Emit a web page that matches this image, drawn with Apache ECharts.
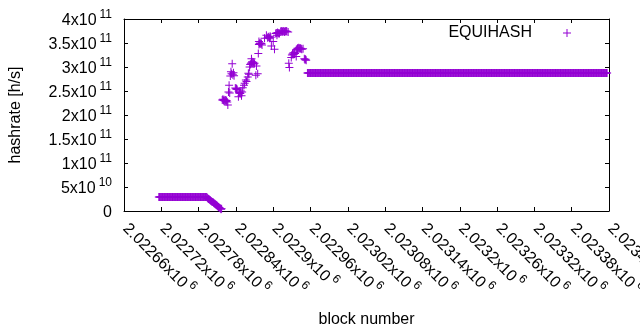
<!DOCTYPE html>
<html>
<head>
<meta charset="utf-8">
<script src="https://cdn.jsdelivr.net/npm/echarts@6/dist/echarts.min.js"></script>
<style>
    html, body { margin: 0; padding: 0; background: #fff; }
    #chart { width: 640px; height: 330px; }
</style>
</head>
<body>
<div id="chart"></div>
<script>
    // x range and ticks (block numbers)
    const xMin = 2022660;
    const xMax = 2023440;
    const xStep = 60;
    // y range and ticks (h/s)
    const yMin = 0;
    const yMax = 4e11;
    const yStep = 5e10;

    const seriesName = 'EQUIHASH';

    // constant stretches: [first block, last block, hashrate], one point per block
    const lowRun = [2022716, 2022793, 2.9e10];
    const highRun = [2022955, 2023437, 2.875e11];

    // decline after the low stretch, one value per block
    const rampStart = 2022794;
    const rampValues = [2.75e10, 2.6e10, 2.5e10, 2.45e10, 2.3e10, 2.2e10, 2.1e10, 2.0e10,
        1.9e10, 1.85e10, 1.7e10, 1.6e10, 1.5e10, 1.4e10, 1.3e10, 1.2e10, 1.1e10,
        0.95e10, 0.85e10, 0.75e10, 0.6e10, 0.5e10, 0.35e10, 0.45e10];

    // the scattered part: [block, hashrate]
    const scatterPoints = [
        [2022818, 2.31e11], [2022819, 2.33e11], [2022820, 2.30e11], [2022821, 2.32e11],
        [2022822, 2.29e11], [2022823, 2.31e11], [2022824, 2.28e11], [2022825, 2.30e11],
        [2022826, 2.27e11], [2022827, 2.21e11], [2022828, 2.48e11], [2022829, 2.62e11],
        [2022830, 2.46e11], [2022831, 2.81e11], [2022832, 2.90e11], [2022833, 2.86e11],
        [2022834, 3.07e11], [2022835, 2.84e11], [2022836, 2.88e11], [2022837, 2.82e11],
        [2022839, 2.56e11], [2022840, 2.54e11], [2022841, 2.55e11], [2022842, 2.53e11],
        [2022844, 2.38e11], [2022845, 2.46e11], [2022846, 2.47e11], [2022847, 2.45e11],
        [2022848, 2.50e11], [2022849, 2.40e11], [2022850, 2.48e11], [2022851, 2.57e11],
        [2022853, 2.62e11], [2022854, 2.66e11], [2022856, 2.73e11], [2022857, 2.70e11],
        [2022859, 2.79e11], [2022860, 2.87e11], [2022861, 2.85e11], [2022862, 3.00e11],
        [2022863, 3.05e11], [2022864, 3.07e11], [2022865, 3.09e11], [2022866, 3.11e11],
        [2022867, 3.08e11], [2022868, 3.10e11], [2022869, 3.06e11], [2022870, 3.08e11],
        [2022865, 3.17e11], [2022872, 2.83e11], [2022873, 3.02e11], [2022875, 2.86e11],
        [2022876, 3.28e11], [2022877, 3.47e11], [2022878, 3.49e11], [2022879, 3.50e11],
        [2022880, 3.48e11], [2022881, 3.49e11], [2022882, 3.46e11], [2022877, 3.53e11],
        [2022886, 3.60e11], [2022889, 3.66e11], [2022891, 3.61e11], [2022892, 3.63e11],
        [2022893, 3.62e11], [2022894, 3.60e11], [2022895, 3.64e11], [2022896, 3.62e11],
        [2022897, 3.44e11], [2022900, 3.53e11], [2022902, 3.37e11], [2022904, 3.70e11],
        [2022905, 3.71e11], [2022906, 3.66e11], [2022907, 3.72e11], [2022908, 3.70e11],
        [2022909, 3.71e11], [2022910, 3.70e11], [2022912, 3.74e11], [2022913, 3.75e11],
        [2022914, 3.73e11], [2022915, 3.74e11], [2022916, 3.75e11], [2022917, 3.74e11],
        [2022918, 3.73e11], [2022919, 3.75e11], [2022920, 3.74e11], [2022921, 3.75e11],
        [2022922, 3.74e11], [2022924, 3.73e11], [2022925, 3.08e11], [2022926, 2.99e11],
        [2022929, 3.20e11], [2022930, 3.25e11], [2022931, 3.27e11], [2022932, 3.29e11],
        [2022933, 3.26e11], [2022934, 3.30e11], [2022935, 3.28e11], [2022937, 3.22e11],
        [2022937, 3.36e11], [2022938, 3.37e11], [2022939, 3.39e11], [2022940, 3.38e11],
        [2022941, 3.40e11], [2022942, 3.39e11], [2022943, 3.38e11], [2022944, 3.39e11],
        [2022945, 3.38e11], [2022946, 3.37e11], [2022948, 3.38e11], [2022950, 3.17e11],
        [2022951, 3.15e11], [2022952, 3.16e11], [2022953, 3.14e11]
    ];

    function expandRun(run) {
        let out = [];
        for (let b = run[0]; b <= run[1]; b++) out.push([b, run[2]]);
        return out;
    }

    let points = expandRun(lowRun)
        .concat(rampValues.map((v, i) => [rampStart + i, v]))
        .concat(scatterPoints)
        .concat(expandRun(highRun));

    // "2.02266x10^6" style labels
    function sciLabel(v) {
        if (v === 0) return '{m|0}';
        let e = Math.floor(Math.log10(Math.abs(v)) + 1e-9);
        let m = parseFloat((v / Math.pow(10, e)).toPrecision(6));
        return '{m|' + m + 'x10}{s|' + e + '}';
    }

    const font = 'Liberation Sans, Arial, sans-serif';
    const richY = {
        m: { fontSize: 16, lineHeight: 20, verticalAlign: 'bottom', color: '#000', fontFamily: font },
        s: { fontSize: 12, lineHeight: 12, verticalAlign: 'top', color: '#000', fontFamily: font, padding: [0, 0, 0, 3] }
    };
    const richX = {
        m: { fontSize: 16, lineHeight: 20, verticalAlign: 'bottom', color: '#000', fontFamily: font, padding: [0, 0, 0, 4] },
        s: { fontSize: 12, lineHeight: 12, verticalAlign: 'top', color: '#000', fontFamily: font, padding: [0, 0, 0, 3] }
    };
    const plus = 'path://M3.5,0H4.5V3.5H8V4.5H4.5V8H3.5V4.5H0V3.5H3.5Z';
    const axisLine = { show: true, onZero: false, lineStyle: { color: '#000', width: 1 } };
    const tick = { show: true, inside: true, length: 4, lineStyle: { color: '#000' } };

    let myChart = echarts.init(document.getElementById('chart'));
    let option = {
        animation: false,
        backgroundColor: '#fff',
        textStyle: { fontFamily: font },
        grid: { left: 124, right: 31, top: 19, bottom: 119, containLabel: false, outerBoundsMode: 'none' },
        legend: {
            data: [seriesName],
            right: 64,
            top: 20,
            align: 'right',
            itemWidth: 8,
            itemHeight: 8,
            formatter: '{a|{name}}',
            textStyle: {
                color: '#000',
                rich: { a: { fontSize: 16, fontFamily: font, color: '#000', padding: [0, 26, 0, 0] } }
            }
        },
        xAxis: [{
            type: 'value',
            min: xMin,
            max: xMax,
            interval: xStep,
            name: 'block number',
            nameLocation: 'middle',
            nameGap: 101,
            nameTextStyle: { fontSize: 16, color: '#000', fontFamily: font },
            axisLine: axisLine,
            axisTick: tick,
            splitLine: { show: false },
            axisLabel: {
                rotate: -45,
                margin: 11,
                formatter: sciLabel,
                rich: richX
            }
        }, {
            type: 'value',
            position: 'top',
            min: xMin,
            max: xMax,
            interval: xStep,
            axisLine: axisLine,
            axisTick: tick,
            splitLine: { show: false },
            axisLabel: { show: false }
        }],
        yAxis: [{
            type: 'value',
            min: yMin,
            max: yMax,
            interval: yStep,
            name: 'hashrate [h/s]',
            nameLocation: 'middle',
            nameRotate: 90,
            nameGap: 100,
            nameTextStyle: { fontSize: 16, color: '#000', fontFamily: font },
            axisLine: axisLine,
            axisTick: tick,
            splitLine: { show: false },
            axisLabel: {
                margin: 12,
                formatter: sciLabel,
                rich: richY
            }
        }, {
            type: 'value',
            position: 'right',
            min: yMin,
            max: yMax,
            interval: yStep,
            axisLine: axisLine,
            axisTick: tick,
            splitLine: { show: false },
            axisLabel: { show: false }
        }],
        series: [{
            name: seriesName,
            type: 'scatter',
            symbol: plus,
            symbolSize: 8,
            itemStyle: { color: '#9400d3', opacity: 1 },
            data: points
        }]
    };
    myChart.setOption(option);
</script>
</body>
</html>
